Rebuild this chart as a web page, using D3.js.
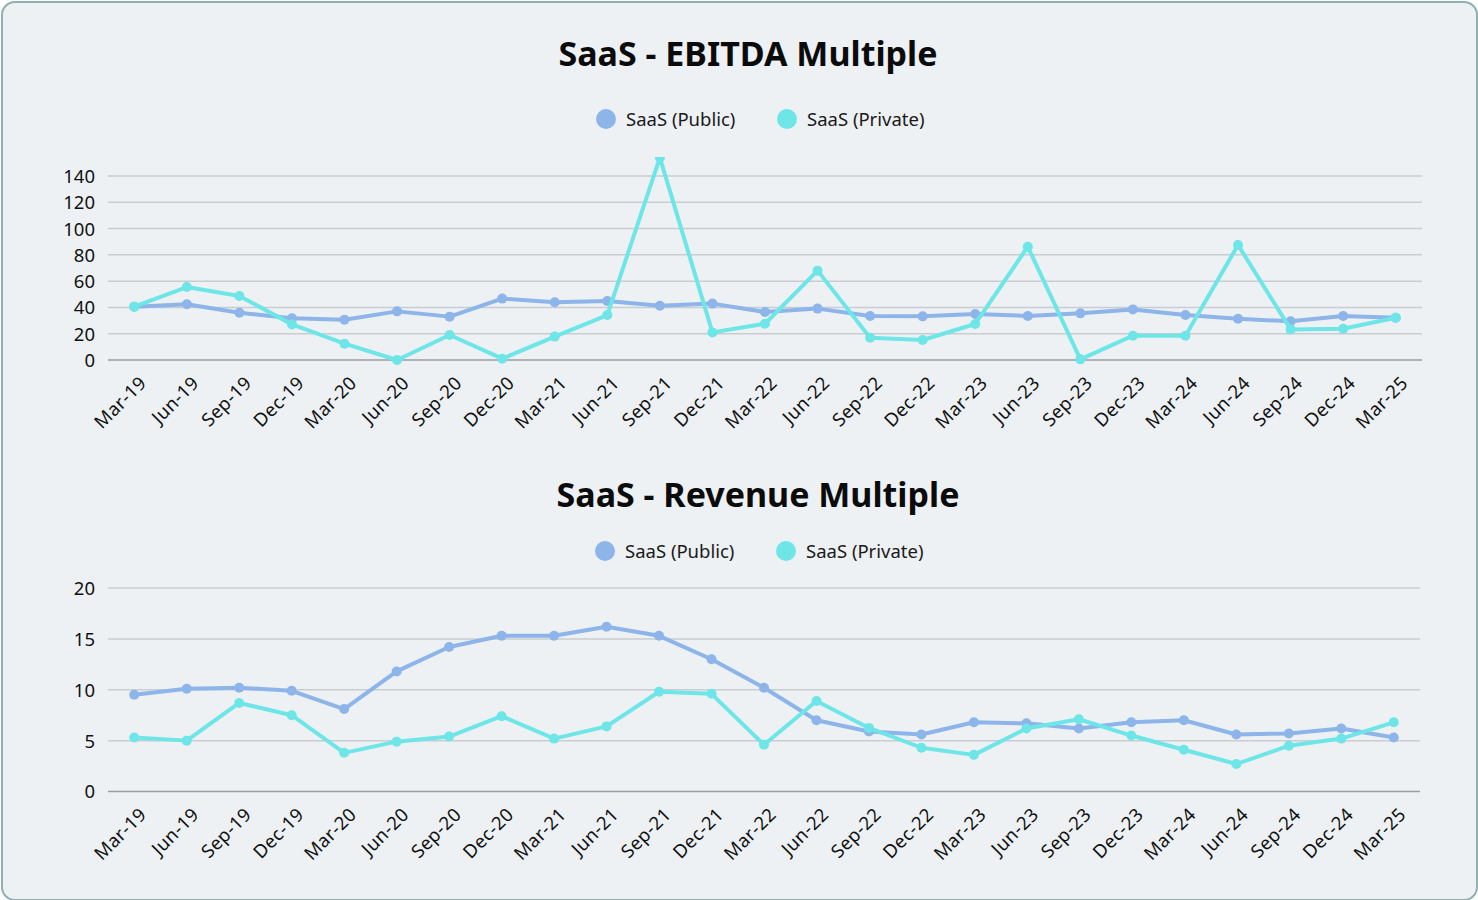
<!DOCTYPE html>
<html>
<head>
<meta charset="utf-8">
<script src="https://cdn.jsdelivr.net/npm/d3@7"></script>
<style>
  html, body { margin: 0; padding: 0; background: #ffffff; }
  body { width: 1478px; height: 900px; overflow: hidden; }
  .card {
    position: absolute; left: 1px; top: 1px; width: 1473px; height: 896px;
    background: #edf1f4; border: 2px solid #8fb0b3; border-radius: 14px;
  }
  svg { position: absolute; left: 0; top: 0; font-family: "Noto Sans", sans-serif; }
</style>
</head>
<body>
<div class="card"></div>
<script>
"use strict"

const quarters = ['Mar-19','Jun-19','Sep-19','Dec-19','Mar-20','Jun-20','Sep-20','Dec-20',
  'Mar-21','Jun-21','Sep-21','Dec-21','Mar-22','Jun-22','Sep-22','Dec-22',
  'Mar-23','Jun-23','Sep-23','Dec-23','Mar-24','Jun-24','Sep-24','Dec-24','Mar-25'];

const seriesNames = ['SaaS (Public)', 'SaaS (Private)'];
const seriesColors = ['#8db5ea', '#6ee6e8'];

const ebitdaPublic = [40.5, 42.4, 36.0, 31.7, 30.7, 37.0, 33.0, 46.7, 43.9, 44.9, 41.3, 42.9,
  36.5, 39.1, 33.5, 33.2, 35.0, 33.5, 35.5, 38.5, 34.2, 31.4, 29.4, 33.5, 32.2];
const ebitdaPrivate = [40.6, 55.5, 48.7, 27.1, 12.4, 0, 19.0, 1, 17.8, 34.2, 154, 21.0,
  27.6, 68.0, 17.0, 15.2, 27.4, 86.2, 0.5, 18.5, 18.5, 87.5, 23.3, 23.8, 32.2];
const ebitdaTicks = [0, 20, 40, 60, 80, 100, 120, 140];

const revPublic = [9.5, 10.1, 10.2, 9.9, 8.1, 11.8, 14.2, 15.3, 15.3, 16.2, 15.3, 13.0,
  10.2, 7.0, 5.9, 5.6, 6.8, 6.7, 6.2, 6.8, 7.0, 5.6, 5.7, 6.2, 5.3];
const revPrivate = [5.3, 5.0, 8.7, 7.5, 3.8, 4.9, 5.4, 7.4, 5.2, 6.4, 9.8, 9.6,
  4.6, 8.9, 6.25, 4.3, 3.6, 6.2, 7.1, 5.5, 4.1, 2.7, 4.5, 5.2, 6.8];
const revTicks = [0, 5, 10, 15, 20];

const svg = d3.select('body').append('svg')
  .attr('width', 1478)
  .attr('height', 900);

function drawChart(cfg) {
  const g = svg.append('g');

  g.append('text')
    .attr('x', cfg.titleX)
    .attr('y', cfg.titleY)
    .attr('text-anchor', 'middle')
    .style('font-size', '34px')
    .style('font-weight', 700)
    .style('fill', '#0b0b0b')
    .text(cfg.title);

  // legend
  const leg = g.selectAll('.leg')
    .data(seriesNames)
    .enter()
    .append('g')
    .attr('transform', (d, i) => 'translate(' + cfg.legendX[i] + ',' + cfg.legendY + ')');
  leg.append('circle')
    .attr('r', 10)
    .attr('fill', (d, i) => seriesColors[i]);
  leg.append('text')
    .attr('x', 20)
    .attr('y', 6.5)
    .style('font-size', '18.5px')
    .style('fill', '#1a1a1a')
    .text(d => d);

  const x = d3.scaleBand()
    .domain(quarters)
    .range([cfg.left, cfg.right]);

  const y = d3.scaleLinear()
    .domain([0, cfg.max])
    .range([cfg.bottom, cfg.bottom - cfg.pxPerUnit * cfg.max]);

  // grid
  g.append('g')
    .selectAll('line')
    .data(cfg.ticks)
    .enter()
    .append('line')
    .attr('x1', cfg.left)
    .attr('x2', cfg.right)
    .attr('y1', d => y(d))
    .attr('y2', d => y(d))
    .attr('stroke', d => d === 0 ? '#9a9ea3' : '#c9cdd1')
    .attr('stroke-width', 1.5);

  const yAxis = d3.axisLeft(y).tickValues(cfg.ticks).tickSize(0).tickPadding(0);
  g.append('g')
    .attr('transform', 'translate(' + (cfg.left - 13) + ',0)')
    .call(yAxis)
    .call(a => a.select('.domain').remove())
    .selectAll('text')
    .attr('dy', '0.35em')
    .style('font-size', '18.5px')
    .style('font-family', '"Noto Sans", sans-serif')
    .style('fill', '#111');

  const xAxis = d3.axisBottom(x).tickSize(0);
  g.append('g')
    .attr('transform', 'translate(0,' + cfg.bottom + ')')
    .call(xAxis)
    .call(a => a.select('.domain').remove())
    .selectAll('text')
    .attr('text-anchor', 'end')
    .attr('transform', 'translate(2,13) rotate(-45)')
    .attr('dy', '0.7em')
    .style('font-size', '18.5px')
    .style('letter-spacing', '0.4px')
    .style('font-family', '"Noto Sans", sans-serif')
    .style('fill', '#111');

  const clipId = 'clip' + cfg.id;
  g.append('clipPath')
    .attr('id', clipId)
    .append('rect')
    .attr('x', 0)
    .attr('y', cfg.clipTop)
    .attr('width', 1478)
    .attr('height', 900);

  const plot = g.append('g').attr('clip-path', 'url(#' + clipId + ')');
  const cx = d => x(d) + x.bandwidth() / 2;
  const line = d3.line()
    .x((d, i) => cx(quarters[i]))
    .y(d => y(d));

  cfg.series.forEach((vals, si) => {
    plot.append('path')
      .datum(vals)
      .attr('d', line)
      .attr('fill', 'none')
      .attr('stroke', seriesColors[si])
      .attr('stroke-width', 4)
      .attr('stroke-linejoin', 'round');
    plot.selectAll('.pt' + si)
      .data(vals)
      .enter()
      .append('circle')
      .attr('cx', (d, i) => cx(quarters[i]))
      .attr('cy', d => y(d))
      .attr('r', 5)
      .attr('fill', seriesColors[si]);
  });
}

drawChart({
  id: 1,
  title: 'SaaS - EBITDA Multiple',
  titleX: 748, titleY: 66,
  legendX: [606, 787], legendY: 119,
  left: 108, right: 1422, bottom: 360,
  max: 160, pxPerUnit: 184 / 140,
  ticks: ebitdaTicks,
  clipTop: 157,
  series: [ebitdaPublic, ebitdaPrivate]
});

drawChart({
  id: 2,
  title: 'SaaS - Revenue Multiple',
  titleX: 758, titleY: 507,
  legendX: [605, 786], legendY: 551,
  left: 108, right: 1420, bottom: 791.5,
  max: 20, pxPerUnit: 203.5 / 20,
  ticks: revTicks,
  clipTop: 560,
  series: [revPublic, revPrivate]
});
</script>
</body>
</html>
